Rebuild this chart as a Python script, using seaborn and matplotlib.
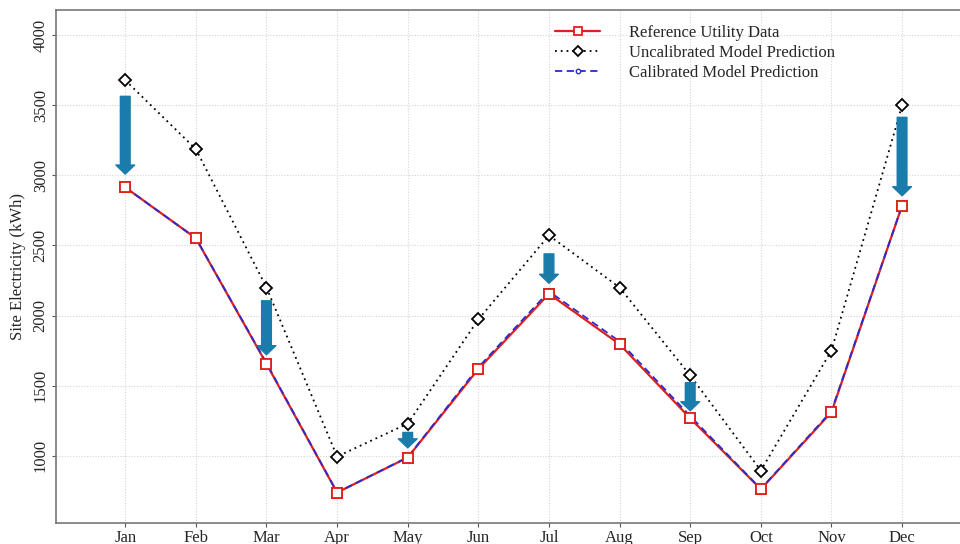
import numpy as np
import pandas as pd
import matplotlib
matplotlib.use('Agg')
import matplotlib.pyplot as plt
import seaborn as sns

# ─── Data ────────────────────────────────────────────────────────────────────
months       = ['Jan', 'Feb', 'Mar', 'Apr', 'May', 'Jun',
                'Jul', 'Aug', 'Sep', 'Oct', 'Nov', 'Dec']
reference    = [2915, 2552, 1655, 736, 986, 1618, 2155, 1795, 1266, 760, 1310, 2785]
uncalibrated = [3680, 3188, 2200, 993, 1228, 1972, 2572, 2200, 1572, 893, 1750, 3500]
calibrated   = [2915, 2552, 1660, 736, 988, 1630, 2172, 1815, 1282, 762, 1318, 2785]

# calibration arrows (month index, start value, tip value)
arrow_month = [1, 3, 5, 7, 9, 12]
arrow_from  = [3565, 2105, 1165, 2440, 1520, 3415]
arrow_to    = [3010, 1720, 1055, 2230, 1320, 2855]

df = pd.DataFrame({'month': np.arange(1, 13),
                   'reference': reference,
                   'uncalibrated': uncalibrated,
                   'calibrated': calibrated})

# ─── Style ───────────────────────────────────────────────────────────────────
sns.set_style('white')
plt.rcParams['font.family'] = ['Liberation Serif', 'DejaVu Serif']

fig = plt.figure(figsize=(9.6, 5.44), dpi=100)
ax = fig.add_axes([0.058, 0.039, 0.942, 0.9435])

# ─── Lines ───────────────────────────────────────────────────────────────────
sns.lineplot(data=df, x='month', y='uncalibrated', ax=ax, color='black',
             linestyle=(0, (1, 2.2)), linewidth=1.3, marker='D', markersize=6,
             markerfacecolor='white', markeredgecolor='black', markeredgewidth=1.3,
             label='Uncalibrated Model Prediction', zorder=3)
sns.lineplot(data=df, x='month', y='reference', ax=ax, color='#e0201b',
             linewidth=1.6, marker='s', markersize=7,
             markerfacecolor='white', markeredgecolor='#e0201b', markeredgewidth=1.3,
             label='Reference Utility Data', zorder=3)
sns.lineplot(data=df, x='month', y='calibrated', ax=ax, color='#2a2ad0',
             linestyle=(0, (4, 2.5)), linewidth=1.3, marker='o', markersize=4,
             markerfacecolor='white', markeredgecolor='#2a2ad0', markeredgewidth=1.0,
             label='Calibrated Model Prediction', zorder=4)
# red squares back on top of the dashed line
ax.plot(df['month'], df['reference'], linestyle='none', marker='s', markersize=7,
        markerfacecolor='white', markeredgecolor='#e0201b', markeredgewidth=1.3, zorder=5)

# ─── Arrows ──────────────────────────────────────────────────────────────────
for m, y0, y1 in zip(arrow_month, arrow_from, arrow_to):
    ax.annotate('', xy=(m, y1), xytext=(m, y0),
                arrowprops=dict(arrowstyle='simple,head_width=13.5,head_length=6.5,tail_width=7',
                                mutation_scale=1, color='#1a7caa', shrinkA=0, shrinkB=0),
                zorder=6)

# ─── Axes ────────────────────────────────────────────────────────────────────
ax.set_xlim(0.015, 12.82)
ax.set_ylim(520, 4185)
ax.set_xticks(df['month'])
ax.set_xticklabels(months, fontsize=12)
ax.set_yticks([1000, 1500, 2000, 2500, 3000, 3500, 4000])
ax.set_yticklabels(['1000', '1500', '2000', '2500', '3000', '3500', '4000'],
                   rotation=90, va='center', fontsize=12)
ax.set_xlabel('')
ax.set_ylabel('Site Electricity (kWh)', fontsize=12, labelpad=5)
ax.tick_params(axis='both', direction='out', length=3, width=0.8, color='#555555',
               bottom=True, left=True, pad=2)
ax.grid(True, color='#d5d5d5', linestyle=(0, (1, 1.5)), linewidth=0.8)
for side in ['left', 'bottom', 'top']:
    ax.spines[side].set_color('#777777')
    ax.spines[side].set_linewidth(1.2)
ax.spines['right'].set_visible(False)

# ─── Legend ──────────────────────────────────────────────────────────────────
handles, labels = ax.get_legend_handles_labels()
order = [labels.index('Reference Utility Data'),
         labels.index('Uncalibrated Model Prediction'),
         labels.index('Calibrated Model Prediction')]
ax.legend([handles[i] for i in order], [labels[i] for i in order],
          loc='upper left', bbox_to_anchor=(0.536, 1.0), frameon=False,
          fontsize=12, handlelength=2.7, handletextpad=1.7, labelspacing=0.26,
          markerscale=0.8)

fig.savefig('out.png', dpi=100)
plt.close(fig)
